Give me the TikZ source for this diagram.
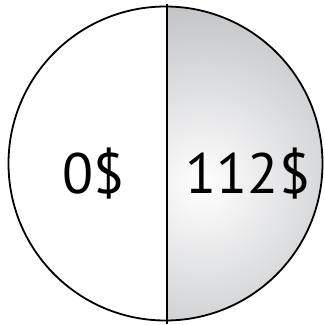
\documentclass[tikz,border=0pt]{standalone}
\usepackage{fontspec}
\setmainfont{PT Sans}
\definecolor{coingray}{RGB}{178,180,184}
\begin{document}
\begin{tikzpicture}[x=1pt,y=-1pt,
  rim/.style={draw=black,line width=1.8pt},
  amount/.style={font=\fontsize{57}{60}\selectfont,inner sep=0pt,anchor=base}]
\useasboundingbox (0,0) rectangle (325,325);
\coordinate (c) at (165.5,163.5);
\coordinate (top) at (167,4);
\coordinate (bot) at (167,324);
\begin{scope}
  \clip (167,0) rectangle (330,330);
  \clip (c) circle (157);
  \shade[inner color=white,outer color=coingray] (203,185) circle (230);
\end{scope}
\draw[rim] (c) circle (157);
\draw[rim] (top) -- (bot);
\node[amount] (zero) at (94,193) {0\$};
\node[amount] (val) at (248,193) {112\$};
\end{tikzpicture}
\end{document}
